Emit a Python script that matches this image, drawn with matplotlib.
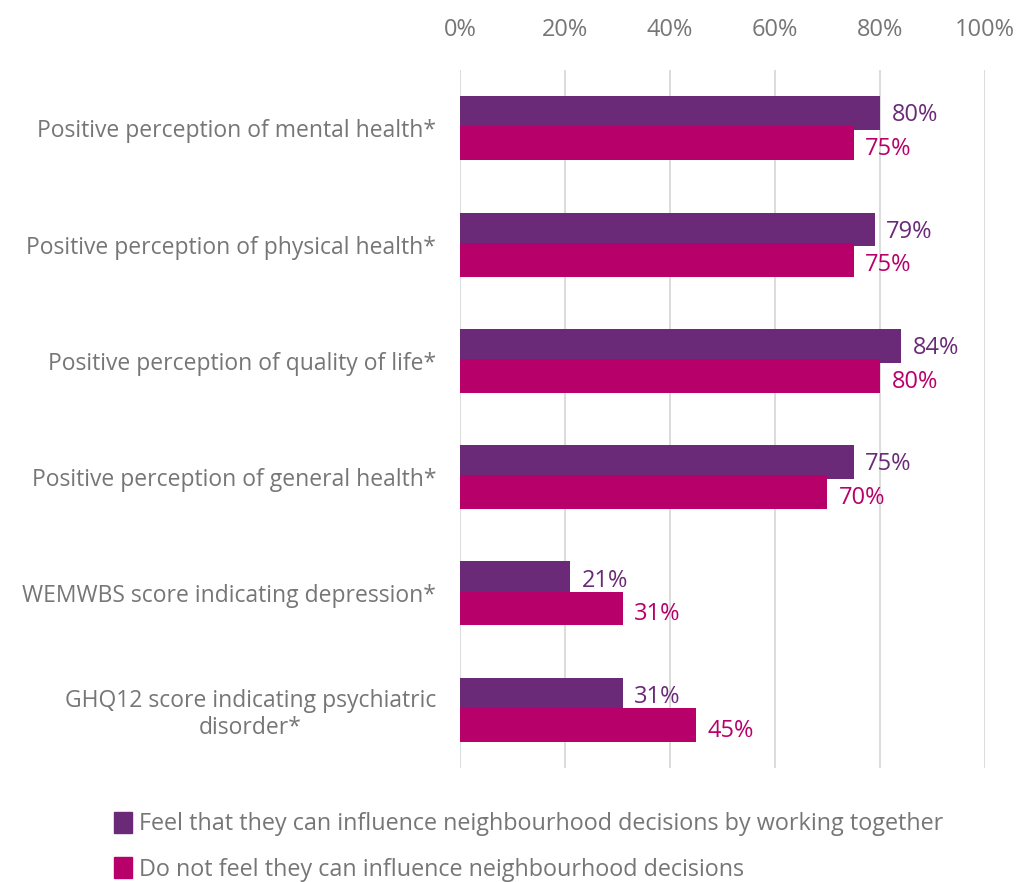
import matplotlib.pyplot as plt
import numpy as np
from matplotlib.patches import Patch

categories = [
    "Positive perception of mental health*",
    "Positive perception of physical health*",
    "Positive perception of quality of life*",
    "Positive perception of general health*",
    "WEMWBS score indicating depression*",
    "GHQ12 score indicating psychiatric\ndisorder*",
]
feel_influence = [80, 79, 84, 75, 21, 31]
not_feel = [75, 75, 80, 70, 31, 45]
series_names = [
    "Feel that they can influence neighbourhood decisions by working together",
    "Do not feel they can influence neighbourhood decisions",
]

purple = "#6A2A78"
magenta = "#B8006A"
grey = "#767676"

plt.rcParams['font.family'] = ['Open Sans', 'DejaVu Sans']

fig = plt.figure(figsize=(10.21, 8.82), dpi=100)
ax = fig.add_axes([0.4505, 0.1293, 0.5142, 0.7913])

y = np.arange(len(categories))
h = 0.29
off = 0.13
ax.barh(y - off, feel_influence, height=h, color=purple, zorder=3)
ax.barh(y + off, not_feel, height=h, color=magenta, zorder=3)

for i in range(len(categories)):
    ax.text(feel_influence[i] + 2.2, y[i] - off + 0.02, f"{feel_influence[i]}%",
            color=purple, fontsize=17, va="center", ha="left")
    ax.text(not_feel[i] + 2.2, y[i] + off + 0.05, f"{not_feel[i]}%",
            color=magenta, fontsize=17, va="center", ha="left")

ax.set_xlim(0, 100)
ax.set_ylim(len(categories) - 0.5, -0.5)
ax.set_xticks(range(0, 101, 20))
ax.set_xticklabels([f"{v}%" for v in range(0, 101, 20)])
ax.xaxis.tick_top()
ax.tick_params(axis="x", length=0, labelsize=17, labelcolor=grey, pad=20)
ax.set_yticks(y)
ax.set_yticklabels(categories, multialignment="center")
ax.tick_params(axis="y", length=0, labelsize=16.5, labelcolor=grey, pad=17)
ax.grid(axis="x", color="#D9D9D9", linewidth=1.3, zorder=0)
for s in ax.spines.values():
    s.set_visible(False)

handles = [Patch(color=purple), Patch(color=magenta)]
fig.legend(handles, series_names, loc="upper left", bbox_to_anchor=(0.103, 0.09),
           frameon=False, fontsize=16.8, labelcolor=grey, handlelength=0.75,
           handleheight=1.0, handletextpad=0.3, labelspacing=0.9, borderaxespad=0)

fig.savefig("out.png", dpi=100)
